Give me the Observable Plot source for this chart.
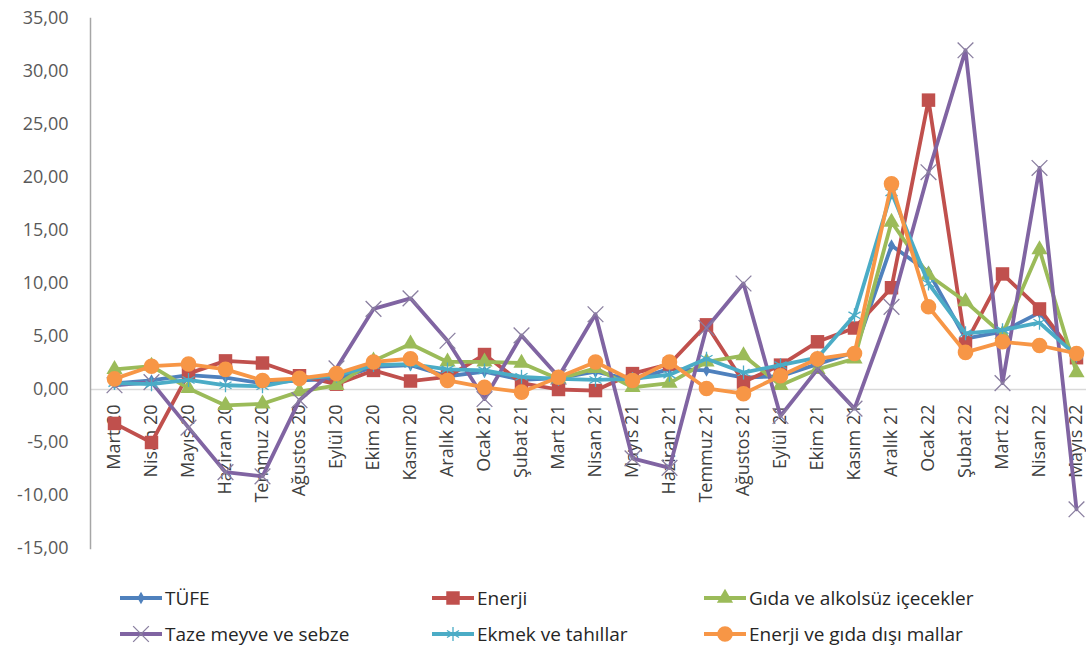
<!DOCTYPE html>
<html>
<head>
<meta charset="utf-8">
<script src="https://cdn.jsdelivr.net/npm/d3@7"></script>
<script src="https://cdn.jsdelivr.net/npm/@observablehq/plot@0.6"></script>
<style>
  html, body { margin: 0; padding: 0; background: #fff; }
  #wrap { position: relative; width: 1086px; height: 651px; overflow: hidden; font-family: "Open Sans", sans-serif; }
  #chart { position: absolute; left: 0; top: 0; }
  .leg { position: absolute; display: flex; align-items: center; font-family: "Open Sans", sans-serif; font-size: 19px; color: #262626; white-space: nowrap; }
  .leg svg { display: block; margin-right: 2px; }
</style>
</head>
<body>
<div id="wrap"><div id="chart"></div></div>
<script>
const months = ["Mart 20","Nisan 20","Mayıs 20","Haziran 20","Temmuz 20","Ağustos 20","Eylül 20","Ekim 20","Kasım 20","Aralık 20","Ocak 21","Şubat 21","Mart 21","Nisan 21","Mayıs 21","Haziran 21","Temmuz 21","Ağustos 21","Eylül 21","Ekim 21","Kasım 21","Aralık 21","Ocak 22","Şubat 22","Mart 22","Nisan 22","Mayıs 22"];

const tufe   = [0.57,0.85,1.36,1.13,0.58,0.86,0.97,2.13,2.30,1.25,1.68,0.91,1.08,1.68,0.89,1.94,1.80,1.12,1.25,2.39,3.51,13.58,11.10,4.81,5.46,7.25,2.98];
const enerji = [-3.2,-5.0,1.5,2.7,2.5,1.3,0.5,1.8,0.8,1.2,3.3,0.6,0.0,-0.1,1.5,2.4,6.1,0.7,2.3,4.5,5.8,9.6,27.3,4.3,10.9,7.6,3.0];
const gida   = [1.9,2.2,0.1,-1.5,-1.35,-0.2,0.4,2.7,4.3,2.6,2.6,2.5,1.0,2.0,0.2,0.6,2.6,3.2,0.4,1.9,2.9,15.8,10.8,8.3,5.2,13.2,1.6];
const taze   = [0.4,0.7,-3.6,-7.8,-8.2,-1.0,2.0,7.6,8.6,4.6,-0.9,5.1,1.2,7.1,-6.5,-7.4,5.8,10.0,-2.5,1.9,-1.8,7.8,20.5,32.0,0.6,20.9,-11.3];
const ekmek  = [0.6,0.5,0.9,0.4,0.3,1.0,1.3,2.3,2.4,1.9,1.8,1.2,1.0,0.9,1.0,1.4,2.9,1.6,2.3,3.0,7.0,18.6,10.0,5.3,5.6,6.3,3.2];
const enerjiGidaDisi = [1.0,2.2,2.4,1.9,0.85,1.05,1.5,2.6,2.9,0.85,0.2,-0.25,1.15,2.6,0.85,2.6,0.1,-0.4,1.3,2.9,3.4,19.4,7.8,3.5,4.5,4.15,3.4];

const yTicks = [-15,-10,-5,0,5,10,15,20,25,30,35];

const seriesDefs = [
  {name: "TÜFE", values: tufe, color: "#4F81BD", symbol: "diamond", r: 3.8, filled: true},
  {name: "Enerji", values: enerji, color: "#C0504D", symbol: "square", r: 7.6, filled: true},
  {name: "Gıda ve alkolsüz içecekler", values: gida, color: "#9BBB59", symbol: "triangle", r: 6.0, filled: true},
  {name: "Taze meyve ve sebze", values: taze, color: "#8064A2", symbol: "times", r: 7.2, filled: false, mstroke: "#8a7fa0"},
  {name: "Ekmek ve tahıllar", values: ekmek, color: "#4BACC6", symbol: "asterisk", r: 6.6, filled: false, mstroke: "#4BACC6"},
  {name: "Enerji ve gıda dışı mallar", values: enerjiGidaDisi, color: "#F79646", symbol: "circle", r: 7.8, filled: true}
];

const rows = seriesDefs.flatMap(s => s.values.map((v, i) => ({month: months[i], value: v, series: s.name})));

const fmt = d => d.toFixed(2).replace(".", ",");

const marks = [
  Plot.ruleY([0], {stroke: "#d9d9d9", strokeWidth: 1.5}),
  Plot.text(months, {x: d => d, y: d => 0, text: d => d, rotate: -90, textAnchor: "end", dy: 15, fontSize: 18, fill: "#404040", fontFamily: "Open Sans"}),
  Plot.axisY({ticks: yTicks, tickFormat: fmt, tickSize: 0, tickPadding: 22, fontSize: 18, fill: "#595959", label: null}),
  Plot.frame({anchor: "left", stroke: "#a6a6a6", strokeWidth: 1.5})
];
for (const s of seriesDefs) {
  const data = rows.filter(d => d.series === s.name);
  marks.push(Plot.line(data, {x: "month", y: "value", stroke: s.color, strokeWidth: 3.8, strokeLinejoin: "round", curve: "linear"}));
  if (s.filled) {
    marks.push(Plot.dot(data, {x: "month", y: "value", symbol: () => s.symbol, r: s.r, fill: s.color, stroke: "none"}));
  } else {
    marks.push(Plot.dot(data, {x: "month", y: "value", symbol: () => s.symbol, r: s.r, fill: "none", stroke: s.mstroke, strokeWidth: 1.3}));
  }
}

const chart = Plot.plot({
  width: 1086,
  height: 580,
  marginLeft: 90,
  marginRight: 0,
  marginTop: 18,
  marginBottom: 32,
  style: {fontFamily: "Open Sans", background: "white", overflow: "visible"},
  x: {type: "point", domain: months, range: [110, 1080], padding: 0, axis: null},
  y: {domain: [-15, 35], axis: null},
  symbol: {type: "identity"},
  marks
});
document.getElementById("chart").appendChild(chart);

// Legend
const wrap = document.getElementById("wrap");
const legPos = [
  {left: 119, top: 598}, {left: 431, top: 598}, {left: 703, top: 598},
  {left: 119, top: 634}, {left: 431, top: 634}, {left: 703, top: 634}
];
seriesDefs.forEach((s, k) => {
  const p = legPos[k];
  const div = document.createElement("div");
  div.className = "leg";
  div.style.left = p.left + "px";
  div.style.top = (p.top - 13) + "px";
  div.style.height = "26px";
  const sw = d3.create("svg").attr("width", 44).attr("height", 26);
  sw.append("line").attr("x1", 1).attr("x2", 43).attr("y1", 13).attr("y2", 13).attr("stroke", s.color).attr("stroke-width", 3.8);
  const symMap = {diamond: d3.symbolDiamond, square: d3.symbolSquare, triangle: d3.symbolTriangle, times: d3.symbolTimes, asterisk: d3.symbolAsterisk, circle: d3.symbolCircle};
  const size = Math.PI * s.r * s.r;
  sw.append("path").attr("transform", "translate(22,13)")
    .attr("d", d3.symbol(symMap[s.symbol], size)())
    .attr("fill", s.filled ? s.color : "none")
    .attr("stroke", s.filled ? "none" : s.mstroke)
    .attr("stroke-width", 1.3);
  div.appendChild(sw.node());
  const span = document.createElement("span");
  span.textContent = s.name;
  div.appendChild(span);
  wrap.appendChild(div);
});
</script>
</body>
</html>
